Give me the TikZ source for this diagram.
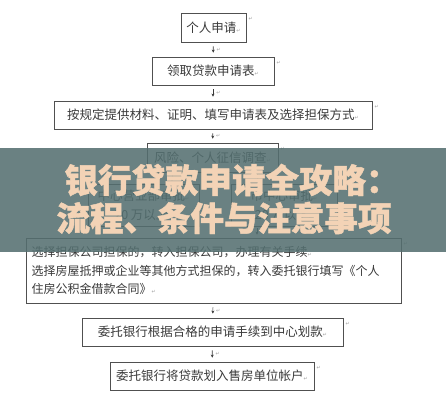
\documentclass[tikz,border=0pt]{standalone}
\usepackage{fontspec}
\newfontfamily\cjk{Noto Sans CJK SC}
\newfontfamily\cjkh{Noto Sans CJK SC}[FakeBold=1.2]
\newfontfamily\sym{DejaVu Sans}
\usetikzlibrary{arrows.meta}
\definecolor{boxc}{HTML}{505050}
\definecolor{txt}{HTML}{3A3A3A}
\definecolor{bannerc}{HTML}{546F70}
\definecolor{titlec}{HTML}{F3D3B6}
\definecolor{markc}{HTML}{A0A0A0}
\newcommand{\ret}{{\sym\fontsize{5}{5}\selectfont\color{markc}↵}}
\begin{document}
\begin{tikzpicture}[x=1pt,y=-1pt,
  box/.style={draw=boxc, line width=0.8pt, minimum height=28pt, inner sep=0pt,
    font=\cjk\fontsize{12.5}{15}\selectfont, text=txt},
  arr/.style={draw=txt, line width=0.7pt, -{Stealth[length=3pt,width=3pt]},
    shorten >=4pt, shorten <=4pt},
  cellmark/.style={font=\sym\fontsize{5}{5}\selectfont, text=markc, inner sep=0pt, anchor=west},
  title/.style={font=\cjkh\bfseries\fontsize{33.5}{36}\selectfont, text=titlec, inner sep=0pt}]
\useasboundingbox (0,0) rectangle (446,400);
\fill[white] (0,0) rectangle (446,400);

\node[box, minimum width=65pt, minimum height=29pt] (b1) at (213.5,27.5) {个人申请\ret};
\node[box, minimum width=122pt] (b2) at (213,71) {领取贷款申请表\ret};
\node[box, minimum width=318pt] (b3) at (213,115) {按规定提供材料、证明、填写申请表及选择担保方式\ret};
\node[box, minimum width=131pt, minimum height=29pt] (b4) at (212.5,157.5) {风险、个人征信调查\ret};
\node[box, minimum width=111pt, minimum height=42pt, align=center,
      font=\cjk\fontsize{12.5}{19}\selectfont] (L) at (143.5,205) {中心营业部审批\ret\\20 万以上\ret};
\node[box, minimum width=106pt, minimum height=42pt, align=center,
      font=\cjk\fontsize{12.5}{19}\selectfont] (R) at (284,205) {市中心审批\ret\\20 万以下\ret};
\node[box, minimum width=375pt, minimum height=65pt, align=left, text width=364pt,
      font=\cjk\fontsize{12}{18.5}\selectfont] (b5) at (213.5,270.5)
  {选择担保公司担保的，转入担保公司，办理有关手续\ret\\
   选择房屋抵押或企业等其他方式担保的，转入委托银行填写《个人\\
   住房公积金借款合同》\ret};
\node[box, minimum width=261pt] (b6) at (212.5,332) {委托银行根据合格的申请手续到中心划款\ret};
\node[box, minimum width=204pt] (b7) at (212,376) {委托银行将贷款划入售房单位帐户\ret};

\foreach \n in {b1,b2,b3,b4,L,R,b5,b6,b7}
  \node[cellmark] at ([shift={(2,6)}]\n.north east) {↵};

\coordinate (xl) at (172,0);
\coordinate (xr) at (257,0);
\draw[arr] (b1) -- node[cellmark, xshift=3pt] {↵} (b2);
\draw[arr] (b2) -- node[cellmark, xshift=3pt] {↵} (b3);
\draw[arr] (b3) -- node[cellmark, xshift=3pt] {↵} (b4);
\draw[arr, shorten >=2pt, shorten <=2pt] (b4.south -| xl) -- (L.north -| xl);
\draw[arr, shorten >=2pt, shorten <=2pt] (b4.south -| xr) -- (R.north -| xr);
\draw[arr, shorten >=3pt, shorten <=2pt] (L.south -| xl) -- (b5.north -| xl);
\draw[arr, shorten >=3pt, shorten <=2pt] (R.south -| xr) -- node[cellmark, xshift=3pt] {↵} (b5.north -| xr);
\draw[arr] (b5) -- node[cellmark, xshift=3pt] {↵} (b6);
\draw[arr] (b6) -- node[cellmark, xshift=3pt] {↵} (b7);

\fill[bannerc, fill opacity=0.87] (0,148) rectangle (446,252);
\node[title] (t1) at (232,180) {银行贷款申请全攻略：};
\node[title] (t2) at (224,218) {流程、条件与注意事项};
\end{tikzpicture}
\end{document}
